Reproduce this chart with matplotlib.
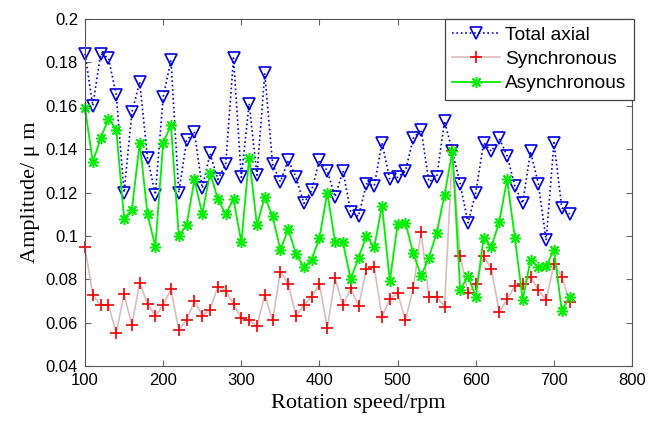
import numpy as np
import matplotlib
matplotlib.use('Agg')
import matplotlib.pyplot as plt

speed = np.arange(100, 730, 10)   # rpm, 100 .. 720

total_axial = [0.184, 0.160, 0.184, 0.182, 0.165, 0.120, 0.157, 0.171, 0.136, 0.119,
               0.164, 0.181, 0.120, 0.144, 0.148, 0.122, 0.138, 0.126, 0.133, 0.182,
               0.127, 0.161, 0.128, 0.175, 0.133, 0.125, 0.135, 0.127, 0.115, 0.121,
               0.135, 0.130, 0.118, 0.130, 0.111, 0.109, 0.124, 0.123, 0.143, 0.126,
               0.127, 0.130, 0.145, 0.149, 0.125, 0.127, 0.153, 0.139, 0.124, 0.106,
               0.120, 0.143, 0.139, 0.145, 0.137, 0.123, 0.115, 0.139, 0.124, 0.098,
               0.143, 0.113, 0.110]

synchronous = [0.0947, 0.0728, 0.068, 0.068, 0.0554, 0.073, 0.0589, 0.0784, 0.0686, 0.0632,
               0.068, 0.0754, 0.0566, 0.0612, 0.070, 0.0632, 0.0660, 0.0766, 0.0747, 0.0686,
               0.062, 0.061, 0.0585, 0.0728, 0.0612, 0.0835, 0.078, 0.063, 0.068, 0.072,
               0.0778, 0.0574, 0.0804, 0.068, 0.0758, 0.0677, 0.0846, 0.0855, 0.0628, 0.0708,
               0.0735, 0.0612, 0.0758, 0.102, 0.0717, 0.072, 0.0674, 0.139, 0.0907, 0.0738,
               0.0778, 0.0907, 0.0846, 0.065, 0.0708, 0.0769, 0.0778, 0.0812, 0.075, 0.0705,
               0.087, 0.0812, 0.0697]

asynchronous = [0.159, 0.134, 0.145, 0.154, 0.149, 0.108, 0.112, 0.143, 0.110, 0.095,
                0.143, 0.151, 0.100, 0.105, 0.126, 0.110, 0.129, 0.117, 0.110, 0.117,
                0.097, 0.136, 0.105, 0.118, 0.109, 0.0935, 0.103, 0.0917, 0.0855, 0.089,
                0.099, 0.120, 0.097, 0.097, 0.080, 0.090, 0.100, 0.0947, 0.114, 0.079,
                0.1055, 0.106, 0.092, 0.0815, 0.090, 0.1015, 0.119, 0.139, 0.075, 0.0815,
                0.072, 0.099, 0.095, 0.1065, 0.126, 0.099, 0.0705, 0.089, 0.0855, 0.086,
                0.0935, 0.0655, 0.0717]

x_ticks = [100, 200, 300, 400, 500, 600, 700, 800]
y_ticks = [0.04, 0.06, 0.08, 0.1, 0.12, 0.14, 0.16, 0.18, 0.2]

plt.rcParams['font.family'] = ['Liberation Sans', 'DejaVu Sans']

fig = plt.figure(figsize=(6.64, 4.26), dpi=100, facecolor='white')
ax = fig.add_axes([0.128, 0.1408, 0.824, 0.8146])

# MATLAB-like asterisk: 8 spokes
asterisk = (8, 2, 0)

ax.plot(speed, total_axial, ':', color='#0000dd', lw=1.2, marker='v', ms=8,
        mfc='none', mec='#0000dd', mew=1.2, label='Total axial', clip_on=False)
ax.plot(speed, synchronous, '-', color='#d9bcbc', lw=1.2, marker='+', ms=8,
        mec='#ee0000', mew=1.2, label='Synchronous', clip_on=False)
ax.plot(speed, asynchronous, '-', color='#00ee00', lw=1.3, marker=asterisk, ms=8,
        mec='#00ee00', mew=1.1, label='Asynchronous', clip_on=False)

ax.set_xlim(100, 800)
ax.set_ylim(0.04, 0.2)
ax.set_xticks(x_ticks)
ax.set_yticks(y_ticks)
ax.set_yticklabels([('%g' % v) for v in y_ticks])
ax.tick_params(direction='in', top=True, right=True, labelsize=12, length=4,
               color='#666666', pad=5)
for s in ax.spines.values():
    s.set_color('#555555')

ax.set_xlabel('Rotation speed/rpm', family='Liberation Serif', fontsize=16)
ax.set_ylabel('Amplitude/ \u03bc m', family='Liberation Serif', fontsize=16)

leg = ax.legend(loc='upper right', bbox_to_anchor=(1.003, 1.0), borderaxespad=0,
                fancybox=False, framealpha=1, edgecolor='#444444', fontsize=13.8,
                handlelength=2.5, borderpad=0.38, labelspacing=0.36, handletextpad=0.25)
leg.get_frame().set_linewidth(0.9)
leg.set_zorder(5)

fig.savefig('out.png', dpi=100)
